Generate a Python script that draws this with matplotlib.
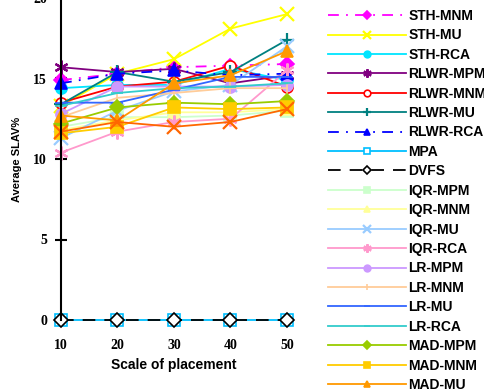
import matplotlib
matplotlib.use("Agg")
import matplotlib.pyplot as plt

# Données
scales = [10, 20, 30, 40, 50]

names = ["STH-MNM", "STH-MU", "STH-RCA", "RLWR-MPM", "RLWR-MNM", "RLWR-MU",
         "RLWR-RCA", "MPA", "DVFS", "IQR-MPM", "IQR-MNM", "IQR-MU", "IQR-RCA",
         "LR-MPM", "LR-MNM", "LR-MU", "LR-RCA", "MAD-MPM", "MAD-MNM", "MAD-MU",
         "MAD-RCA"]

sth_mnm = [14.9, 15.3, 15.7, 15.8, 15.9]
sth_mu = [13.3, 15.3, 16.2, 18.1, 19.0]
sth_rca = [14.4, 14.6, 14.6, 15.6, 14.9]
rlwr_mpm = [15.7, 15.4, 15.6, 14.7, 15.2]
rlwr_mnm = [13.5, 14.5, 14.8, 15.8, 14.5]
rlwr_mu = [13.4, 15.4, 14.8, 15.4, 17.4]
rlwr_rca = [14.7, 15.3, 15.5, 15.2, 15.3]
mpa = [0, 0, 0, 0, 0]
dvfs = [0, 0, 0, 0, 0]
iqr_mpm = [12.0, 12.6, 12.6, 12.7, 13.0]
iqr_mnm = [11.8, 12.4, 12.9, 12.9, 13.1]
iqr_mu = [11.3, 13.0, 14.2, 14.6, 17.0]
iqr_rca = [10.4, 11.7, 12.3, 12.5, 15.5]
lr_mpm = [12.8, 14.5, 14.5, 14.5, 14.6]
lr_mnm = [12.6, 13.8, 14.1, 14.4, 14.4]
lr_mu = [13.5, 13.5, 14.3, 15.1, 15.1]
lr_rca = [13.3, 14.1, 14.4, 14.5, 14.7]
mad_mpm = [12.2, 13.2, 13.5, 13.4, 13.6]
mad_mnm = [11.6, 12.0, 13.2, 13.1, 13.2]
mad_mu = [12.7, 12.4, 14.7, 15.2, 16.7]
mad_rca = [11.7, 12.3, 12.0, 12.3, 13.1]

series = [sth_mnm, sth_mu, sth_rca, rlwr_mpm, rlwr_mnm, rlwr_mu, rlwr_rca, mpa,
          dvfs, iqr_mpm, iqr_mnm, iqr_mu, iqr_rca, lr_mpm, lr_mnm, lr_mu,
          lr_rca, mad_mpm, mad_mnm, mad_mu, mad_rca]

asterisk = (6, 2, 0)
# (couleur, style, marqueur, remplissage du marqueur)
styles = [
    ("#FF00FF", (0, (6, 4, 1, 4)), "D", None),
    ("#FFFF00", "-", "x", None),
    ("#00E5FF", "-", "o", None),
    ("#800080", "-", asterisk, None),
    ("#FF0000", "-", "o", "white"),
    ("#008080", "-", "+", None),
    ("#0000FF", (0, (6, 4, 1, 4)), "^", None),
    ("#00BFFF", "-", "s", "white"),
    ("#000000", (0, (7, 5)), "D", "white"),
    ("#CCFFCC", "-", "s", None),
    ("#FFFF99", "-", "^", None),
    ("#99CCFF", "-", "x", None),
    ("#FF99CC", "-", asterisk, None),
    ("#CC99FF", "-", "o", None),
    ("#FFCC99", "-", "|", None),
    ("#3366FF", "-", "_", None),
    ("#33CCCC", "-", "_", None),
    ("#99CC00", "-", "D", None),
    ("#FFCC00", "-", "s", None),
    ("#FF9900", "-", "^", None),
    ("#FF6600", "-", "x", None),
]

fig = plt.figure(figsize=(4.85, 3.9), dpi=100)
ax = fig.add_axes([61 / 485, 70 / 390, 226 / 485, 322 / 390])

handles = []
for name, vals, (col, ls, mk, fc) in zip(names, series, styles):
    ms = 8
    mew = 1.2
    if mk in ("x", asterisk, "+"):
        ms = 10
        mew = 1.6
    if mk == "D":
        ms = 7
    line, = ax.plot(scales, vals, color=col, linestyle=ls, marker=mk,
                    markersize=ms, markeredgewidth=mew, linewidth=1.3,
                    markerfacecolor=fc if fc else col, markeredgecolor=col,
                    clip_on=False, label=name)
    handles.append(line)

ax.set_xlim(10, 50)
ax.set_ylim(0, 20)
ax.set_xticks(scales)
ax.set_yticks([0, 5, 10, 15, 20])
for s in ["top", "right", "bottom"]:
    ax.spines[s].set_visible(False)
ax.spines["left"].set_linewidth(1.5)
ax.tick_params(axis="y", direction="inout", length=8, width=1.5, pad=6)
ax.tick_params(axis="x", length=0, pad=14)
for lab in ax.get_xticklabels() + ax.get_yticklabels():
    lab.set_fontfamily("Liberation Serif")
    lab.set_fontweight("bold")
    lab.set_fontsize(10)

ax.set_xlabel("Scale of placement", fontsize=10, fontweight="bold",
              fontfamily="Liberation Sans", labelpad=4)
ax.set_ylabel("Average SLAV%", fontsize=8, fontweight="bold",
              fontfamily="Liberation Sans", labelpad=8)

# Légende hors du graphique (sans la dernière série, coupée dans l'original)
leg = fig.legend(handles=handles[:20], loc="upper left",
                 bbox_to_anchor=(328 / 485, 1 - 9 / 390), frameon=False,
                 handlelength=5.6, handletextpad=0.2, labelspacing=0.39,
                 borderaxespad=0, borderpad=0, markerscale=0.6,
                 prop={"family": "Liberation Sans", "weight": "bold", "size": 10})

plt.savefig("out.png", dpi=100)
